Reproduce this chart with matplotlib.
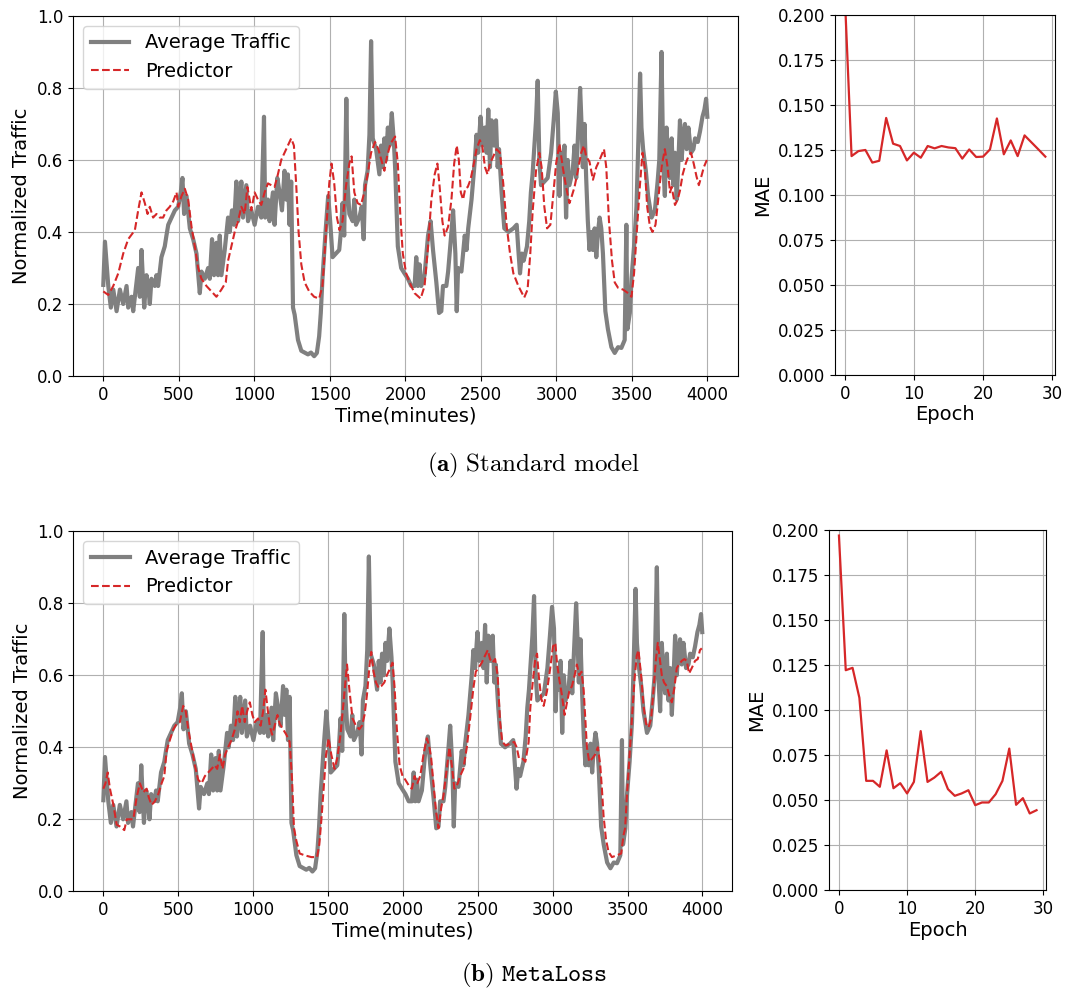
import matplotlib
matplotlib.use("Agg")
import matplotlib.pyplot as plt

#%% Dados
traffic_t = [0, 11, 33, 50, 66, 88, 110, 132, 154, 165, 187, 198, 220, 231, 242, 253, 271, 286, 297, 308,
             319, 341, 352, 363, 385, 407, 418, 430, 452, 474, 496, 513, 524, 535, 551, 573, 595, 617, 639, 650,
             672, 694, 705, 720, 733, 749, 760, 771, 782, 804, 826, 837, 852, 866, 881, 892, 903, 914, 925, 947,
             958, 980, 1002, 1024, 1046, 1064, 1072, 1090, 1101, 1123, 1134, 1152, 1167, 1183, 1200, 1211, 1222, 1233, 1244, 1256,
             1267, 1289, 1311, 1355, 1375, 1396, 1414, 1429, 1440, 1451, 1473, 1489, 1502, 1518, 1540, 1562, 1573, 1584, 1595, 1609,
             1618, 1629, 1651, 1662, 1673, 1695, 1711, 1724, 1733, 1750, 1762, 1773, 1784, 1806, 1828, 1839, 1850, 1861, 1872, 1884,
             1895, 1910, 1924, 1933, 1950, 1972, 1994, 2017, 2039, 2061, 2072, 2083, 2094, 2105, 2127, 2150, 2167, 2183, 2205, 2223,
             2238, 2249, 2271, 2283, 2305, 2316, 2331, 2340, 2349, 2371, 2382, 2393, 2405, 2416, 2438, 2460, 2471, 2482, 2498, 2511,
             2527, 2538, 2549, 2560, 2571, 2587, 2600, 2611, 2620, 2637, 2655, 2682, 2715, 2737, 2748, 2759, 2771, 2783, 2805, 2820,
             2831, 2842, 2854, 2865, 2876, 2887, 2898, 2920, 2942, 2965, 2982, 2996, 3009, 3020, 3031, 3042, 3053, 3064, 3075, 3086,
             3108, 3120, 3131, 3142, 3157, 3168, 3175, 3186, 3197, 3208, 3219, 3230, 3241, 3253, 3264, 3275, 3286, 3297, 3308, 3324,
             3341, 3364, 3386, 3408, 3430, 3452, 3463, 3470, 3486, 3497, 3514, 3530, 3541, 3554, 3563, 3574, 3592, 3607, 3630, 3652,
             3670, 3681, 3696, 3707, 3718, 3729, 3740, 3751, 3763, 3774, 3785, 3796, 3807, 3818, 3829, 3840, 3851, 3862, 3874, 3891,
             3907, 3918, 3936, 3951, 3967, 3980, 3991, 3999]
traffic_v = [0.253, 0.373, 0.25, 0.19, 0.24, 0.18, 0.24, 0.20, 0.25, 0.19, 0.22, 0.18, 0.26, 0.30, 0.22, 0.35, 0.19, 0.28, 0.25, 0.20,
             0.27, 0.25, 0.28, 0.25, 0.33, 0.36, 0.39, 0.42, 0.44, 0.46, 0.47, 0.51, 0.55, 0.45, 0.50, 0.41, 0.38, 0.34, 0.23, 0.29,
             0.27, 0.30, 0.27, 0.38, 0.28, 0.37, 0.28, 0.39, 0.28, 0.35, 0.44, 0.40, 0.46, 0.42, 0.54, 0.43, 0.48, 0.54, 0.44, 0.53,
             0.43, 0.46, 0.42, 0.47, 0.44, 0.72, 0.44, 0.49, 0.43, 0.51, 0.42, 0.55, 0.51, 0.46, 0.57, 0.49, 0.56, 0.42, 0.54, 0.19,
             0.17, 0.10, 0.07, 0.06, 0.065, 0.055, 0.064, 0.11, 0.175, 0.27, 0.41, 0.50, 0.43, 0.33, 0.34, 0.35, 0.40, 0.48, 0.39, 0.77,
             0.53, 0.45, 0.43, 0.49, 0.42, 0.44, 0.47, 0.38, 0.53, 0.57, 0.67, 0.93, 0.66, 0.63, 0.56, 0.64, 0.58, 0.66, 0.60, 0.69,
             0.64, 0.73, 0.65, 0.57, 0.36, 0.30, 0.285, 0.27, 0.25, 0.25, 0.33, 0.25, 0.31, 0.25, 0.28, 0.39, 0.43, 0.35, 0.26, 0.175,
             0.18, 0.25, 0.25, 0.29, 0.40, 0.46, 0.34, 0.18, 0.30, 0.29, 0.34, 0.39, 0.35, 0.41, 0.49, 0.60, 0.67, 0.62, 0.72, 0.64,
             0.69, 0.62, 0.74, 0.58, 0.71, 0.64, 0.71, 0.58, 0.63, 0.51, 0.41, 0.40, 0.41, 0.42, 0.35, 0.285, 0.34, 0.32, 0.36, 0.43,
             0.51, 0.56, 0.64, 0.71, 0.82, 0.60, 0.53, 0.54, 0.55, 0.62, 0.71, 0.79, 0.73, 0.50, 0.62, 0.56, 0.64, 0.44, 0.60, 0.53,
             0.57, 0.64, 0.55, 0.66, 0.80, 0.68, 0.58, 0.70, 0.55, 0.43, 0.35, 0.40, 0.35, 0.41, 0.33, 0.40, 0.44, 0.41, 0.34, 0.18,
             0.13, 0.08, 0.064, 0.08, 0.078, 0.10, 0.42, 0.13, 0.175, 0.27, 0.36, 0.47, 0.63, 0.84, 0.69, 0.63, 0.57, 0.50, 0.44, 0.46,
             0.54, 0.60, 0.90, 0.59, 0.50, 0.69, 0.60, 0.55, 0.66, 0.53, 0.62, 0.49, 0.59, 0.71, 0.60, 0.67, 0.70, 0.63, 0.69, 0.62,
             0.63, 0.66, 0.65, 0.68, 0.72, 0.74, 0.77, 0.72]

# preditor do modelo padrão
pred_a_t = [0, 33, 66, 99, 132, 165, 209, 231, 253, 275, 293, 308, 330, 352, 374, 396, 418, 440, 463, 485,
            496, 518, 540, 562, 584, 606, 628, 650, 683, 716, 749, 782, 811, 826, 848, 870, 892, 914, 936, 954,
            969, 980, 1002, 1024, 1046, 1068, 1090, 1112, 1134, 1156, 1178, 1200, 1222, 1244, 1262, 1278, 1293, 1311, 1333, 1363,
            1396, 1429, 1451, 1473, 1496, 1511, 1529, 1547, 1564, 1584, 1606, 1629, 1644, 1662, 1684, 1706, 1728, 1750, 1773, 1799,
            1821, 1841, 1861, 1879, 1901, 1932, 1950, 1966, 1983, 2005, 2028, 2061, 2101, 2127, 2150, 2172, 2194, 2212, 2227, 2245,
            2260, 2283, 2305, 2323, 2340, 2354, 2367, 2382, 2396, 2413, 2431, 2449, 2471, 2493, 2509, 2527, 2544, 2560, 2582, 2604,
            2626, 2648, 2671, 2693, 2715, 2748, 2787, 2809, 2827, 2843, 2865, 2887, 2902, 2920, 2938, 2960, 2976, 2998, 3020, 3042,
            3064, 3086, 3102, 3120, 3142, 3164, 3182, 3197, 3219, 3242, 3264, 3286, 3315, 3330, 3348, 3368, 3386, 3408, 3441, 3475,
            3497, 3514, 3532, 3552, 3570, 3585, 3601, 3619, 3636, 3656, 3674, 3696, 3718, 3736, 3752, 3763, 3785, 3803, 3818, 3836,
            3856, 3874, 3891, 3909, 3927, 3943, 3960, 3976, 3996]
pred_a_v = [0.235, 0.225, 0.25, 0.285, 0.34, 0.38, 0.405, 0.46, 0.51, 0.48, 0.45, 0.47, 0.44, 0.45, 0.44, 0.44, 0.46, 0.47, 0.485, 0.51,
            0.47, 0.50, 0.52, 0.49, 0.415, 0.36, 0.30, 0.27, 0.25, 0.235, 0.22, 0.24, 0.26, 0.32, 0.36, 0.40, 0.43, 0.47, 0.45, 0.525,
            0.49, 0.46, 0.51, 0.49, 0.475, 0.51, 0.535, 0.53, 0.525, 0.56, 0.60, 0.62, 0.64, 0.66, 0.64, 0.525, 0.40, 0.31, 0.26, 0.235,
            0.22, 0.215, 0.25, 0.39, 0.535, 0.59, 0.535, 0.44, 0.405, 0.43, 0.525, 0.59, 0.61, 0.51, 0.48, 0.475, 0.51, 0.56, 0.62, 0.65,
            0.63, 0.60, 0.57, 0.61, 0.645, 0.665, 0.59, 0.45, 0.34, 0.285, 0.26, 0.23, 0.215, 0.25, 0.36, 0.49, 0.56, 0.59, 0.525, 0.43,
            0.39, 0.415, 0.49, 0.59, 0.64, 0.60, 0.51, 0.49, 0.52, 0.525, 0.545, 0.58, 0.63, 0.655, 0.64, 0.58, 0.56, 0.59, 0.61, 0.63,
            0.62, 0.535, 0.415, 0.34, 0.285, 0.25, 0.218, 0.24, 0.34, 0.46, 0.57, 0.62, 0.58, 0.47, 0.41, 0.42, 0.49, 0.59, 0.645, 0.58,
            0.525, 0.48, 0.50, 0.525, 0.57, 0.62, 0.64, 0.61, 0.595, 0.545, 0.58, 0.60, 0.63, 0.58, 0.43, 0.32, 0.26, 0.245, 0.24, 0.23,
            0.22, 0.285, 0.40, 0.525, 0.62, 0.58, 0.47, 0.415, 0.40, 0.42, 0.49, 0.58, 0.63, 0.58, 0.51, 0.525, 0.475, 0.49, 0.515, 0.56,
            0.59, 0.61, 0.62, 0.59, 0.555, 0.53, 0.555, 0.58, 0.60]

# preditor MetaLoss
pred_b_t = [0, 14, 29, 44, 67, 89, 111, 140, 156, 200, 222, 244, 267, 289, 304, 322, 344, 367, 389, 407,
            422, 444, 467, 489, 511, 533, 550, 567, 589, 611, 633, 656, 678, 700, 744, 760, 778, 796, 813, 833,
            856, 878, 896, 911, 927, 944, 960, 978, 995, 1011, 1033, 1050, 1067, 1082, 1096, 1111, 1127, 1144, 1162, 1178,
            1200, 1222, 1244, 1260, 1273, 1289, 1311, 1344, 1389, 1427, 1442, 1456, 1471, 1487, 1504, 1522, 1544, 1562, 1582, 1604,
            1627, 1644, 1664, 1687, 1709, 1727, 1744, 1760, 1778, 1789, 1804, 1820, 1838, 1856, 1876, 1893, 1916, 1931, 1944, 1960,
            1978, 1998, 2016, 2038, 2060, 2078, 2096, 2116, 2138, 2160, 2175, 2189, 2204, 2222, 2238, 2255, 2271, 2293, 2311, 2327,
            2344, 2367, 2382, 2404, 2427, 2449, 2471, 2487, 2504, 2527, 2549, 2567, 2582, 2598, 2616, 2633, 2649, 2664, 2687, 2715,
            2744, 2760, 2775, 2796, 2818, 2840, 2851, 2867, 2884, 2896, 2907, 2924, 2940, 2962, 2984, 3002, 3018, 3029, 3044, 3062,
            3080, 3096, 3111, 3129, 3147, 3162, 3178, 3193, 3207, 3218, 3229, 3244, 3267, 3284, 3302, 3318, 3329, 3340, 3356, 3373,
            3396, 3429, 3458, 3473, 3484, 3496, 3511, 3529, 3547, 3562, 3573, 3591, 3607, 3624, 3640, 3658, 3673, 3689, 3702, 3713,
            3729, 3744, 3762, 3778, 3796, 3813, 3829, 3844, 3862, 3880, 3896, 3911, 3929, 3951, 3969, 3984, 3996]
pred_b_v = [0.285, 0.30, 0.33, 0.285, 0.24, 0.185, 0.18, 0.17, 0.20, 0.20, 0.26, 0.30, 0.275, 0.285, 0.26, 0.24, 0.25, 0.27, 0.30, 0.32,
            0.39, 0.42, 0.45, 0.465, 0.47, 0.515, 0.50, 0.45, 0.40, 0.35, 0.31, 0.30, 0.32, 0.33, 0.35, 0.34, 0.38, 0.34, 0.38, 0.40,
            0.42, 0.45, 0.50, 0.47, 0.515, 0.47, 0.50, 0.525, 0.49, 0.47, 0.48, 0.46, 0.50, 0.56, 0.51, 0.46, 0.435, 0.46, 0.49, 0.465,
            0.45, 0.435, 0.415, 0.31, 0.175, 0.14, 0.105, 0.10, 0.095, 0.095, 0.13, 0.20, 0.285, 0.38, 0.425, 0.38, 0.34, 0.37, 0.43, 0.525,
            0.63, 0.555, 0.48, 0.46, 0.45, 0.46, 0.49, 0.545, 0.63, 0.665, 0.61, 0.58, 0.565, 0.57, 0.58, 0.60, 0.62, 0.635, 0.57, 0.45,
            0.35, 0.32, 0.31, 0.295, 0.285, 0.32, 0.30, 0.32, 0.38, 0.425, 0.405, 0.37, 0.30, 0.22, 0.175, 0.23, 0.265, 0.34, 0.40, 0.35,
            0.285, 0.30, 0.32, 0.34, 0.40, 0.48, 0.565, 0.61, 0.62, 0.635, 0.655, 0.67, 0.645, 0.635, 0.645, 0.60, 0.47, 0.415, 0.405, 0.41,
            0.415, 0.40, 0.37, 0.37, 0.36, 0.415, 0.51, 0.58, 0.645, 0.66, 0.60, 0.535, 0.515, 0.555, 0.62, 0.68, 0.69, 0.635, 0.59, 0.545,
            0.49, 0.525, 0.555, 0.57, 0.60, 0.63, 0.60, 0.61, 0.56, 0.48, 0.40, 0.36, 0.37, 0.38, 0.40, 0.35, 0.285, 0.21, 0.145, 0.11,
            0.095, 0.10, 0.105, 0.155, 0.175, 0.265, 0.36, 0.47, 0.59, 0.655, 0.67, 0.60, 0.515, 0.465, 0.455, 0.48, 0.555, 0.64, 0.69, 0.655,
            0.60, 0.58, 0.57, 0.545, 0.525, 0.565, 0.62, 0.63, 0.64, 0.645, 0.64, 0.605, 0.62, 0.64, 0.645, 0.67, 0.675]

epochs = list(range(30))
mae_a = [0.213, 0.1216, 0.1244, 0.125, 0.118, 0.119, 0.1428, 0.1285, 0.1272, 0.1192,
         0.1235, 0.1207, 0.1272, 0.1259, 0.1272, 0.1264, 0.126, 0.1202, 0.1253, 0.1211,
         0.1213, 0.1253, 0.1425, 0.1226, 0.1303, 0.1216, 0.1331, 0.1292, 0.1253, 0.1213]
mae_b = [0.1969, 0.1222, 0.1235, 0.1069, 0.0608, 0.0608, 0.0575, 0.0777, 0.0567, 0.0595,
         0.0538, 0.0602, 0.0884, 0.0602, 0.0626, 0.0658, 0.0562, 0.0525, 0.0538, 0.0556,
         0.0473, 0.0488, 0.0488, 0.0534, 0.0608, 0.0787, 0.0475, 0.0512, 0.0427, 0.0445]

#%% Figura
plt.rcParams["mathtext.fontset"] = "cm"
fig = plt.figure(figsize=(10.67, 9.91), dpi=100)

paineis = [
    (pred_a_v, pred_a_t, mae_a, [0.0685, 0.6206, 0.6227, 0.3633], [0.7822, 0.6216, 0.2069, 0.3633]),
    (pred_b_v, pred_b_t, mae_b, [0.0688, 0.1006, 0.6174, 0.3633], [0.7770, 0.1015, 0.2037, 0.3637]),
]
for pred_v, pred_t, mae, pos_l, pos_r in paineis:
    ax = fig.add_axes(pos_l)
    ax.plot(traffic_t, traffic_v, color="gray", linewidth=3, label="Average Traffic")
    ax.plot(pred_t, pred_v, color="tab:red", linestyle="--", linewidth=1.5, label="Predictor")
    ax.set_ylim(0, 1)
    ax.grid(True)
    ax.set_xlabel("Time(minutes)", fontsize=14, labelpad=2)
    ax.set_ylabel("Normalized Traffic", fontsize=14)
    ax.tick_params(labelsize=12)
    ax.legend(loc="upper left", fontsize=14)

    ax2 = fig.add_axes(pos_r)
    ax2.plot(epochs, mae, color="tab:red", linewidth=1.6)
    ax2.set_ylim(0, 0.2)
    ax2.grid(True)
    ax2.set_xlabel("Epoch", fontsize=14, labelpad=2)
    ax2.set_ylabel("MAE", fontsize=14)
    ax2.tick_params(labelsize=12)

fig.text(0.5, 0.5308, r"$\mathbf{(a)}\ \mathrm{Standard\ model}$", ha="center", va="center", fontsize=18)
fig.text(0.5, 0.0155, r"$\mathbf{(b)}\ \mathtt{MetaLoss}$", ha="center", va="center", fontsize=18)

fig.savefig("out.png", dpi=100)
